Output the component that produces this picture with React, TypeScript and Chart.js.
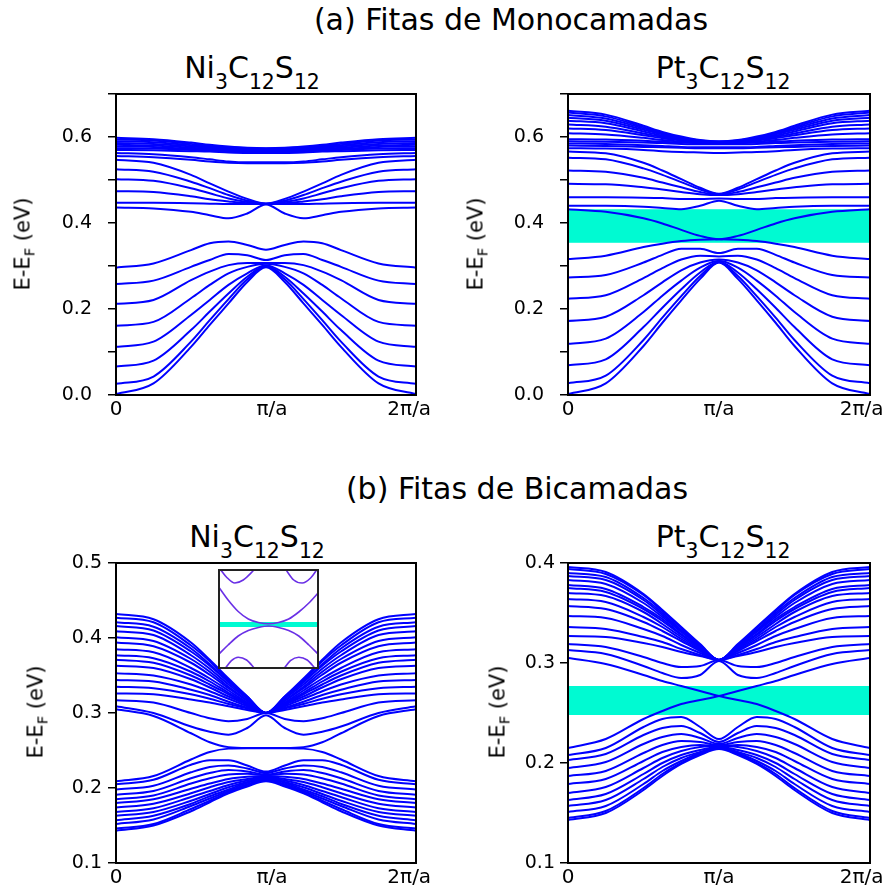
import React, { useEffect, useRef } from 'react';
import { Chart, registerables } from 'chart.js';

Chart.register(...registerables);

// ---------------- data ----------------
const K = [0, 0.25, 0.5, 0.625, 0.75, 0.875, 1, 1.125, 1.25, 1.375, 1.5, 1.75, 2];
const X_TICK_LABELS = ['0', 'π/a', '2π/a'];
const X_TICK_POS_LEFT = [0, 1.04, 1.955];
const X_TICK_POS_RIGHT = [0, 1, 1.945];

const MONO_Y_RANGE = [0, 0.7];
const MONO_Y_LABELS = ['0.0', '0.2', '0.4', '0.6'];
const NI_BI_Y_RANGE = [0.1, 0.5];
const NI_BI_Y_LABELS = ['0.1', '0.2', '0.3', '0.4', '0.5'];
const PT_BI_Y_RANGE = [0.1, 0.4];
const PT_BI_Y_LABELS = ['0.1', '0.2', '0.3', '0.4'];

const PT_MONO_GAP = [0.354, 0.432];
const PT_BI_GAP = [0.248, 0.277];

const SECTION_A = '(a) Fitas de Monocamadas';
const SECTION_B = '(b) Fitas de Bicamadas';
const NI_FORMULA = [['Ni', '3'], ['C', '12'], ['S', '12']];
const PT_FORMULA = [['Pt', '3'], ['C', '12'], ['S', '12']];
const Y_TITLE = ['E-E', 'F', ' (eV)'];

const NI_MONO_BANDS = [
  [0.002, 0.027, 0.112, 0.163, 0.213, 0.263, 0.297, 0.263, 0.213, 0.163, 0.112, 0.027, 0.002],
  [0.026, 0.043, 0.124, 0.174, 0.223, 0.269, 0.298, 0.269, 0.223, 0.174, 0.124, 0.043, 0.026],
  [0.066, 0.080, 0.151, 0.194, 0.236, 0.275, 0.300, 0.275, 0.236, 0.194, 0.151, 0.080, 0.066],
  [0.112, 0.124, 0.186, 0.221, 0.256, 0.283, 0.302, 0.283, 0.256, 0.221, 0.186, 0.124, 0.112],
  [0.161, 0.170, 0.225, 0.256, 0.283, 0.298, 0.305, 0.298, 0.283, 0.256, 0.225, 0.170, 0.161],
  [0.212, 0.221, 0.267, 0.287, 0.302, 0.307, 0.307, 0.307, 0.302, 0.287, 0.267, 0.221, 0.212],
  [0.258, 0.266, 0.298, 0.314, 0.328, 0.325, 0.314, 0.325, 0.328, 0.314, 0.298, 0.266, 0.258],
  [0.296, 0.306, 0.337, 0.353, 0.357, 0.349, 0.338, 0.349, 0.357, 0.353, 0.337, 0.306, 0.296],
  [0.436, 0.434, 0.426, 0.418, 0.411, 0.422, 0.443, 0.422, 0.411, 0.418, 0.426, 0.434, 0.436],
  [0.447, 0.447, 0.446, 0.445, 0.444, 0.444, 0.444, 0.444, 0.444, 0.445, 0.446, 0.447, 0.447],
  [0.474, 0.472, 0.462, 0.455, 0.450, 0.446, 0.445, 0.446, 0.450, 0.455, 0.462, 0.472, 0.474],
  [0.502, 0.498, 0.481, 0.469, 0.457, 0.449, 0.445, 0.449, 0.457, 0.469, 0.481, 0.498, 0.502],
  [0.525, 0.519, 0.496, 0.481, 0.465, 0.452, 0.445, 0.452, 0.465, 0.481, 0.496, 0.519, 0.525],
  [0.547, 0.540, 0.512, 0.492, 0.473, 0.456, 0.445, 0.456, 0.473, 0.492, 0.512, 0.540, 0.547],
  [0.556, 0.553, 0.547, 0.543, 0.540, 0.539, 0.539, 0.539, 0.540, 0.543, 0.547, 0.553, 0.556],
  [0.563, 0.560, 0.553, 0.548, 0.543, 0.541, 0.541, 0.541, 0.543, 0.548, 0.553, 0.560, 0.563],
  [0.570, 0.569, 0.567, 0.566, 0.564, 0.563, 0.563, 0.563, 0.564, 0.566, 0.567, 0.569, 0.570],
  [0.574, 0.573, 0.570, 0.568, 0.566, 0.565, 0.565, 0.565, 0.566, 0.568, 0.570, 0.573, 0.574],
  [0.578, 0.577, 0.572, 0.570, 0.568, 0.567, 0.566, 0.567, 0.568, 0.570, 0.572, 0.577, 0.578],
  [0.582, 0.580, 0.575, 0.572, 0.570, 0.569, 0.568, 0.569, 0.570, 0.572, 0.575, 0.580, 0.582],
  [0.586, 0.584, 0.578, 0.575, 0.572, 0.570, 0.570, 0.570, 0.572, 0.575, 0.578, 0.584, 0.586],
  [0.590, 0.588, 0.581, 0.577, 0.574, 0.572, 0.571, 0.572, 0.574, 0.577, 0.581, 0.588, 0.590],
  [0.594, 0.592, 0.584, 0.579, 0.576, 0.574, 0.573, 0.574, 0.576, 0.579, 0.584, 0.592, 0.594],
  [0.598, 0.595, 0.587, 0.582, 0.578, 0.575, 0.574, 0.575, 0.578, 0.582, 0.587, 0.595, 0.598],
];

const PT_MONO_BANDS = [
  [0.661, 0.652, 0.626, 0.612, 0.601, 0.593, 0.590, 0.593, 0.601, 0.612, 0.626, 0.652, 0.661],
  [0.657, 0.648, 0.623, 0.610, 0.599, 0.592, 0.589, 0.592, 0.599, 0.610, 0.623, 0.648, 0.657],
  [0.651, 0.643, 0.620, 0.608, 0.598, 0.591, 0.589, 0.591, 0.598, 0.608, 0.620, 0.643, 0.651],
  [0.645, 0.638, 0.617, 0.606, 0.597, 0.590, 0.588, 0.590, 0.597, 0.606, 0.617, 0.638, 0.645],
  [0.638, 0.632, 0.613, 0.603, 0.595, 0.590, 0.588, 0.590, 0.595, 0.603, 0.613, 0.632, 0.638],
  [0.629, 0.624, 0.608, 0.600, 0.593, 0.589, 0.588, 0.589, 0.593, 0.600, 0.608, 0.624, 0.629],
  [0.620, 0.616, 0.604, 0.597, 0.592, 0.588, 0.587, 0.588, 0.592, 0.597, 0.604, 0.616, 0.620],
  [0.609, 0.606, 0.598, 0.593, 0.589, 0.587, 0.586, 0.587, 0.589, 0.593, 0.598, 0.606, 0.609],
  [0.595, 0.594, 0.591, 0.589, 0.587, 0.586, 0.585, 0.586, 0.587, 0.589, 0.591, 0.594, 0.595],
  [0.590, 0.589, 0.587, 0.586, 0.584, 0.583, 0.583, 0.583, 0.584, 0.586, 0.587, 0.589, 0.590],
  [0.585, 0.584, 0.581, 0.579, 0.577, 0.576, 0.576, 0.576, 0.577, 0.579, 0.581, 0.584, 0.585],
  [0.580, 0.579, 0.577, 0.576, 0.575, 0.574, 0.574, 0.574, 0.575, 0.576, 0.577, 0.579, 0.580],
  [0.574, 0.573, 0.570, 0.567, 0.565, 0.564, 0.563, 0.564, 0.565, 0.567, 0.570, 0.573, 0.574],
  [0.566, 0.562, 0.540, 0.522, 0.502, 0.482, 0.468, 0.482, 0.502, 0.522, 0.540, 0.562, 0.566],
  [0.552, 0.548, 0.527, 0.512, 0.495, 0.478, 0.467, 0.478, 0.495, 0.512, 0.527, 0.548, 0.552],
  [0.522, 0.519, 0.505, 0.494, 0.483, 0.472, 0.466, 0.472, 0.483, 0.494, 0.505, 0.519, 0.522],
  [0.491, 0.490, 0.483, 0.478, 0.472, 0.467, 0.465, 0.467, 0.472, 0.478, 0.483, 0.490, 0.491],
  [0.460, 0.460, 0.459, 0.458, 0.456, 0.456, 0.457, 0.456, 0.456, 0.458, 0.459, 0.460, 0.460],
  [0.440, 0.440, 0.438, 0.435, 0.432, 0.440, 0.452, 0.440, 0.432, 0.435, 0.438, 0.440, 0.440],
  [0.432, 0.426, 0.411, 0.399, 0.384, 0.370, 0.362, 0.370, 0.384, 0.399, 0.411, 0.426, 0.432],
  [0.316, 0.324, 0.344, 0.352, 0.358, 0.361, 0.362, 0.361, 0.358, 0.352, 0.344, 0.324, 0.316],
  [0.273, 0.279, 0.308, 0.326, 0.340, 0.340, 0.330, 0.340, 0.340, 0.326, 0.308, 0.279, 0.273],
  [0.224, 0.232, 0.272, 0.295, 0.315, 0.324, 0.322, 0.324, 0.315, 0.295, 0.272, 0.232, 0.224],
  [0.172, 0.182, 0.232, 0.262, 0.290, 0.308, 0.315, 0.308, 0.290, 0.262, 0.232, 0.182, 0.172],
  [0.119, 0.131, 0.193, 0.231, 0.266, 0.296, 0.312, 0.296, 0.266, 0.231, 0.193, 0.131, 0.119],
  [0.069, 0.083, 0.158, 0.203, 0.246, 0.285, 0.310, 0.285, 0.246, 0.203, 0.158, 0.083, 0.069],
  [0.027, 0.045, 0.128, 0.180, 0.230, 0.277, 0.309, 0.277, 0.230, 0.180, 0.128, 0.045, 0.027],
  [0.002, 0.027, 0.114, 0.168, 0.220, 0.270, 0.308, 0.270, 0.220, 0.168, 0.114, 0.027, 0.002],
];

const NI_BI_BANDS = [
  [0.432, 0.425, 0.394, 0.371, 0.346, 0.322, 0.300, 0.322, 0.346, 0.371, 0.394, 0.425, 0.432],
  [0.427, 0.421, 0.390, 0.369, 0.344, 0.322, 0.300, 0.322, 0.344, 0.369, 0.390, 0.421, 0.427],
  [0.421, 0.415, 0.386, 0.365, 0.342, 0.321, 0.300, 0.321, 0.342, 0.365, 0.386, 0.415, 0.421],
  [0.416, 0.410, 0.382, 0.363, 0.341, 0.320, 0.300, 0.320, 0.341, 0.363, 0.382, 0.410, 0.416],
  [0.409, 0.404, 0.377, 0.359, 0.338, 0.319, 0.300, 0.319, 0.338, 0.359, 0.377, 0.404, 0.409],
  [0.401, 0.396, 0.372, 0.355, 0.335, 0.317, 0.300, 0.317, 0.335, 0.355, 0.372, 0.396, 0.401],
  [0.394, 0.389, 0.367, 0.351, 0.333, 0.316, 0.300, 0.316, 0.333, 0.351, 0.367, 0.389, 0.394],
  [0.385, 0.381, 0.360, 0.346, 0.330, 0.314, 0.300, 0.314, 0.330, 0.346, 0.360, 0.381, 0.385],
  [0.377, 0.373, 0.355, 0.342, 0.327, 0.313, 0.300, 0.313, 0.327, 0.342, 0.355, 0.373, 0.377],
  [0.371, 0.367, 0.350, 0.338, 0.325, 0.312, 0.300, 0.312, 0.325, 0.338, 0.350, 0.367, 0.371],
  [0.363, 0.360, 0.345, 0.334, 0.322, 0.311, 0.300, 0.311, 0.322, 0.334, 0.345, 0.360, 0.363],
  [0.353, 0.350, 0.338, 0.329, 0.319, 0.309, 0.300, 0.309, 0.319, 0.329, 0.338, 0.350, 0.353],
  [0.344, 0.342, 0.331, 0.324, 0.315, 0.307, 0.300, 0.307, 0.315, 0.324, 0.331, 0.342, 0.344],
  [0.335, 0.333, 0.325, 0.319, 0.312, 0.306, 0.300, 0.306, 0.312, 0.319, 0.325, 0.333, 0.335],
  [0.326, 0.325, 0.318, 0.314, 0.309, 0.304, 0.300, 0.304, 0.309, 0.314, 0.318, 0.325, 0.326],
  [0.317, 0.314, 0.300, 0.293, 0.289, 0.292, 0.300, 0.292, 0.289, 0.293, 0.300, 0.314, 0.317],
  [0.309, 0.300, 0.282, 0.275, 0.271, 0.280, 0.297, 0.280, 0.271, 0.275, 0.282, 0.300, 0.309],
  [0.305, 0.296, 0.273, 0.261, 0.2545, 0.2535, 0.2535, 0.2535, 0.2545, 0.261, 0.273, 0.296, 0.305],
  [0.209, 0.216, 0.238, 0.248, 0.2525, 0.253, 0.253, 0.253, 0.2525, 0.248, 0.238, 0.216, 0.209],
  [0.205, 0.211, 0.231, 0.237, 0.237, 0.230, 0.222, 0.230, 0.237, 0.237, 0.231, 0.211, 0.205],
  [0.198, 0.203, 0.221, 0.228, 0.230, 0.226, 0.220, 0.226, 0.230, 0.228, 0.221, 0.203, 0.198],
  [0.191, 0.196, 0.213, 0.220, 0.224, 0.222, 0.218, 0.222, 0.224, 0.220, 0.213, 0.196, 0.191],
  [0.185, 0.190, 0.206, 0.213, 0.218, 0.219, 0.217, 0.219, 0.218, 0.213, 0.206, 0.190, 0.185],
  [0.180, 0.185, 0.199, 0.206, 0.212, 0.215, 0.216, 0.215, 0.212, 0.206, 0.199, 0.185, 0.180],
  [0.174, 0.179, 0.193, 0.201, 0.208, 0.212, 0.215, 0.212, 0.208, 0.201, 0.193, 0.179, 0.174],
  [0.168, 0.173, 0.188, 0.196, 0.204, 0.210, 0.214, 0.210, 0.204, 0.196, 0.188, 0.173, 0.168],
  [0.163, 0.168, 0.183, 0.192, 0.201, 0.208, 0.213, 0.208, 0.201, 0.192, 0.183, 0.168, 0.163],
  [0.157, 0.163, 0.179, 0.189, 0.198, 0.207, 0.212, 0.207, 0.198, 0.189, 0.179, 0.163, 0.157],
  [0.152, 0.158, 0.176, 0.186, 0.196, 0.205, 0.211, 0.205, 0.196, 0.186, 0.176, 0.158, 0.152],
  [0.146, 0.152, 0.172, 0.183, 0.194, 0.204, 0.210, 0.204, 0.194, 0.183, 0.172, 0.152, 0.146],
  [0.143, 0.150, 0.169, 0.181, 0.193, 0.202, 0.209, 0.202, 0.193, 0.181, 0.169, 0.150, 0.143],
];

const PT_BI_BANDS = [
  [0.396, 0.391, 0.369, 0.353, 0.336, 0.319, 0.303, 0.319, 0.336, 0.353, 0.369, 0.391, 0.396],
  [0.394, 0.389, 0.368, 0.352, 0.335, 0.318, 0.303, 0.318, 0.335, 0.352, 0.368, 0.389, 0.394],
  [0.390, 0.386, 0.365, 0.350, 0.333, 0.318, 0.303, 0.318, 0.333, 0.350, 0.365, 0.386, 0.390],
  [0.387, 0.383, 0.363, 0.348, 0.332, 0.317, 0.303, 0.317, 0.332, 0.348, 0.363, 0.383, 0.387],
  [0.383, 0.379, 0.360, 0.346, 0.331, 0.317, 0.303, 0.317, 0.331, 0.346, 0.360, 0.379, 0.383],
  [0.378, 0.374, 0.356, 0.344, 0.329, 0.316, 0.303, 0.316, 0.329, 0.344, 0.356, 0.374, 0.378],
  [0.375, 0.371, 0.354, 0.342, 0.328, 0.315, 0.303, 0.315, 0.328, 0.342, 0.354, 0.371, 0.375],
  [0.370, 0.367, 0.351, 0.339, 0.326, 0.314, 0.303, 0.314, 0.326, 0.339, 0.351, 0.367, 0.370],
  [0.364, 0.361, 0.346, 0.336, 0.324, 0.313, 0.303, 0.313, 0.324, 0.336, 0.346, 0.361, 0.364],
  [0.357, 0.354, 0.341, 0.332, 0.322, 0.312, 0.303, 0.312, 0.322, 0.332, 0.341, 0.354, 0.357],
  [0.347, 0.345, 0.334, 0.327, 0.318, 0.310, 0.303, 0.310, 0.318, 0.327, 0.334, 0.345, 0.347],
  [0.336, 0.334, 0.326, 0.321, 0.314, 0.308, 0.303, 0.308, 0.314, 0.321, 0.326, 0.334, 0.336],
  [0.327, 0.326, 0.320, 0.316, 0.311, 0.307, 0.303, 0.307, 0.311, 0.316, 0.320, 0.326, 0.327],
  [0.319, 0.316, 0.306, 0.300, 0.296, 0.297, 0.303, 0.297, 0.296, 0.300, 0.306, 0.316, 0.319],
  [0.313, 0.309, 0.297, 0.290, 0.285, 0.288, 0.302, 0.288, 0.285, 0.290, 0.297, 0.309, 0.313],
  [0.305, 0.299, 0.288, 0.282, 0.277, 0.272, 0.267, 0.263, 0.259, 0.252, 0.244, 0.224, 0.215],
  [0.215, 0.224, 0.244, 0.252, 0.259, 0.263, 0.267, 0.272, 0.277, 0.282, 0.288, 0.299, 0.305],
  [0.208, 0.215, 0.236, 0.244, 0.246, 0.236, 0.224, 0.236, 0.246, 0.244, 0.236, 0.215, 0.208],
  [0.203, 0.209, 0.228, 0.235, 0.237, 0.230, 0.221, 0.230, 0.237, 0.235, 0.228, 0.209, 0.203],
  [0.195, 0.201, 0.219, 0.226, 0.229, 0.225, 0.219, 0.225, 0.229, 0.226, 0.219, 0.201, 0.195],
  [0.187, 0.192, 0.210, 0.218, 0.222, 0.221, 0.218, 0.221, 0.222, 0.218, 0.210, 0.192, 0.187],
  [0.179, 0.184, 0.202, 0.211, 0.216, 0.218, 0.217, 0.218, 0.216, 0.211, 0.202, 0.184, 0.179],
  [0.170, 0.176, 0.195, 0.205, 0.212, 0.216, 0.217, 0.216, 0.212, 0.205, 0.195, 0.176, 0.170],
  [0.163, 0.169, 0.189, 0.200, 0.208, 0.213, 0.216, 0.213, 0.208, 0.200, 0.189, 0.169, 0.163],
  [0.157, 0.163, 0.184, 0.196, 0.205, 0.211, 0.216, 0.211, 0.205, 0.196, 0.184, 0.163, 0.157],
  [0.151, 0.157, 0.179, 0.192, 0.202, 0.210, 0.215, 0.210, 0.202, 0.192, 0.179, 0.157, 0.151],
  [0.145, 0.152, 0.175, 0.189, 0.200, 0.209, 0.215, 0.209, 0.200, 0.189, 0.175, 0.152, 0.145],
  [0.143, 0.150, 0.173, 0.187, 0.199, 0.208, 0.214, 0.208, 0.199, 0.187, 0.173, 0.150, 0.143],
];

// inset (zoom of the Ni bilayer crossing), normalised coordinates
const INSET_K = [0, 0.1, 0.2, 0.3, 0.4, 0.5, 0.6, 0.7, 0.8, 0.9, 1];
const INSET_UPPER = [0.83, 0.69, 0.575, 0.5, 0.465, 0.452, 0.465, 0.5, 0.57, 0.66, 0.77];
const INSET_LOWER = [0.14, 0.24, 0.33, 0.385, 0.415, 0.43, 0.415, 0.385, 0.33, 0.24, 0.14];
const INSET_GAP = [0.42, 0.47];
const INSET_TOP_L_X = [0.02, 0.083, 0.167, 0.25, 0.367];
const INSET_TOP_L_Y = [1.0, 0.92, 0.86, 0.89, 1.0];
const INSET_TOP_R_X = [0.667, 0.75, 0.833, 0.917, 0.983];
const INSET_TOP_R_Y = [1.0, 0.89, 0.86, 0.91, 1.0];
const INSET_BOT_L_X = [0.067, 0.133, 0.2, 0.283, 0.367];
const INSET_BOT_L_Y = [0, 0.084, 0.118, 0.09, 0];
const INSET_BOT_R_X = [0.65, 0.717, 0.8, 0.883, 0.967];
const INSET_BOT_R_Y = [0, 0.084, 0.118, 0.09, 0];

// ---------------- styles ----------------
const BLUE = '#0000ff';
const CYAN = '#00fad2';
const INSET_LINE = '#6a30e6';
const SANS = "'DejaVu Sans', sans-serif";
const PAD_TOP = 40;
const X_AXIS_H = 40;

const framePlugin = {
  id: 'frameBox',
  afterDraw(chart: any) {
    const { ctx, chartArea: a } = chart;
    ctx.save();
    ctx.strokeStyle = '#000';
    ctx.lineWidth = 2;
    ctx.strokeRect(a.left, a.top, a.right - a.left, a.bottom - a.top);
    ctx.restore();
  },
};

function makeGapPlugin(gap?: number[]) {
  return {
    id: 'gapBand',
    beforeDatasetsDraw(chart: any) {
      if (!gap) return;
      const { ctx, chartArea: a, scales } = chart;
      const yHi = scales.y.getPixelForValue(gap[1]);
      const yLo = scales.y.getPixelForValue(gap[0]);
      ctx.save();
      ctx.fillStyle = CYAN;
      ctx.fillRect(a.left, yHi, a.right - a.left, yLo - yHi);
      ctx.restore();
    },
  };
}

type PanelProps = {
  plotLeft: number; plotTop: number; plotRight: number; plotBottom: number; canvasLeft: number; canvasRight: number;
  bands: number[][]; yRange: number[]; yLabels: string[]; xTickPos: number[];
  yLabelPad: number; gap?: number[];
};

function Panel(p: PanelProps) {
  const ref = useRef<HTMLCanvasElement>(null);
  const top = p.plotTop - PAD_TOP;
  const width = p.canvasRight - p.canvasLeft;
  const height = p.plotBottom + X_AXIS_H - top;
  useEffect(() => {
    const chart = new Chart(ref.current as HTMLCanvasElement, {
      type: 'line',
      data: {
        datasets: p.bands.map((b) => ({
          data: K.map((k, i) => ({ x: k, y: b[i] })),
          borderColor: BLUE,
          borderWidth: 2,
          pointRadius: 0,
          fill: false,
          cubicInterpolationMode: 'monotone',
        })),
      },
      options: {
        animation: false,
        responsive: false,
        events: [],
        layout: { padding: { top: PAD_TOP, right: p.canvasRight - p.plotRight, left: 0, bottom: 0 } },
        plugins: { legend: { display: false }, tooltip: { enabled: false } },
        scales: {
          x: {
            type: 'linear',
            min: 0,
            max: 2,
            afterBuildTicks: (ax: any) => { ax.ticks = p.xTickPos.map((v) => ({ value: v })); },
            afterFit: (s: any) => { s.height = X_AXIS_H; },
            ticks: {
              callback: (_v: any, i: number) => X_TICK_LABELS[i],
              color: '#000',
              font: { family: SANS, size: 20 },
              padding: 3,
              maxRotation: 0,
              autoSkip: false,
            },
            grid: { display: false, drawTicks: false },
            border: { display: false },
          },
          y: {
            type: 'linear',
            min: p.yRange[0],
            max: p.yRange[1],
            afterFit: (s: any) => { s.width = p.plotLeft - p.canvasLeft; },
            ticks: {
              stepSize: 0.1,
              autoSkip: false,
              callback: (v: any) => {
                const s = Number(v).toFixed(1);
                return p.yLabels.includes(s) ? s : '';
              },
              color: '#000',
              font: { family: SANS, size: 19 },
              padding: p.yLabelPad,
            },
            grid: { drawOnChartArea: false, drawTicks: true, tickLength: 8, color: '#000', lineWidth: 1.5 },
            border: { display: false },
          },
        },
      } as any,
      plugins: [makeGapPlugin(p.gap), framePlugin],
    });
    return () => chart.destroy();
  }, []);
  return (
    <canvas
      ref={ref}
      width={width}
      height={height}
      style={{ position: 'absolute', left: p.canvasLeft, top, width, height }}
    />
  );
}

function Inset() {
  const ref = useRef<HTMLCanvasElement>(null);
  useEffect(() => {
    const mk = (xs: number[], ys: number[]) => ({
      data: xs.map((x, i) => ({ x, y: ys[i] })),
      borderColor: INSET_LINE,
      borderWidth: 1.6,
      pointRadius: 0,
      fill: false,
      cubicInterpolationMode: 'monotone',
    });
    const chart = new Chart(ref.current as HTMLCanvasElement, {
      type: 'line',
      data: {
        datasets: [
          mk(INSET_K, INSET_UPPER),
          mk(INSET_K, INSET_LOWER),
          mk(INSET_TOP_L_X, INSET_TOP_L_Y),
          mk(INSET_TOP_R_X, INSET_TOP_R_Y),
          mk(INSET_BOT_L_X, INSET_BOT_L_Y),
          mk(INSET_BOT_R_X, INSET_BOT_R_Y),
        ],
      },
      options: {
        animation: false,
        responsive: false,
        events: [],
        layout: { padding: 0 },
        plugins: { legend: { display: false }, tooltip: { enabled: false } },
        scales: {
          x: { type: 'linear', min: 0, max: 1, display: false },
          y: { type: 'linear', min: 0, max: 1, display: false },
        },
      } as any,
      plugins: [
        makeGapPlugin(INSET_GAP),
        {
          id: 'insetFrame',
          afterDraw(c: any) {
            const { ctx, width, height } = c;
            ctx.save();
            ctx.strokeStyle = '#222';
            ctx.lineWidth = 2;
            ctx.strokeRect(1, 1, width - 2, height - 2);
            ctx.restore();
          },
        },
      ],
    });
    return () => chart.destroy();
  }, []);
  return (
    <canvas
      ref={ref}
      width={101}
      height={100}
      style={{ position: 'absolute', left: 218, top: 569, width: 101, height: 100, background: '#fff' }}
    />
  );
}

function Formula({ parts, cx, top }: { parts: string[][]; cx: number; top: number }) {
  return (
    <div
      style={{
        position: 'absolute', left: cx, top, transform: 'translateX(-50%)',
        fontFamily: SANS, fontSize: 30, lineHeight: 1, whiteSpace: 'nowrap', color: '#000',
      }}
    >
      {parts.map(([el, n], i) => (
        <span key={i}>
          {el}
          <span style={{ fontSize: '0.68em', position: 'relative', top: '0.56em' }}>{n}</span>
        </span>
      ))}
    </div>
  );
}

function YTitle({ cx, cy }: { cx: number; cy: number }) {
  return (
    <div
      style={{
        position: 'absolute', left: cx, top: cy, transform: 'translate(-50%, -50%) rotate(-90deg)',
        fontFamily: SANS, fontSize: 21, lineHeight: 1, whiteSpace: 'nowrap', color: '#000',
      }}
    >
      {Y_TITLE[0]}
      <span style={{ fontSize: '0.7em', position: 'relative', top: '0.35em' }}>{Y_TITLE[1]}</span>
      {Y_TITLE[2]}
    </div>
  );
}

function Section({ text, cx, top }: { text: string; cx: number; top: number }) {
  return (
    <div
      style={{
        position: 'absolute', left: cx, top, transform: 'translateX(-50%)',
        fontFamily: SANS, fontSize: 30, lineHeight: 1, whiteSpace: 'nowrap', color: '#000',
      }}
    >
      {text}
    </div>
  );
}

export default function App() {
  return (
    <div style={{ position: 'absolute', left: 0, top: 0, width: 888, height: 893, background: '#fff', overflow: 'hidden' }}>
      <Section text={SECTION_A} cx={511} top={5} />
      <Section text={SECTION_B} cx={517} top={474} />
      <Formula parts={NI_FORMULA} cx={252} top={53} />
      <Formula parts={PT_FORMULA} cx={723} top={53} />
      <Formula parts={NI_FORMULA} cx={257} top={522} />
      <Formula parts={PT_FORMULA} cx={723} top={522} />

      <Panel canvasLeft={0} canvasRight={444} plotLeft={116} plotRight={416} plotTop={94} plotBottom={395}
        bands={NI_MONO_BANDS} yRange={MONO_Y_RANGE} yLabels={MONO_Y_LABELS} xTickPos={X_TICK_POS_LEFT} yLabelPad={16} />
      <Panel canvasLeft={444} canvasRight={888} plotLeft={568} plotRight={870} plotTop={94} plotBottom={395}
        bands={PT_MONO_BANDS} yRange={MONO_Y_RANGE} yLabels={MONO_Y_LABELS} xTickPos={X_TICK_POS_RIGHT} yLabelPad={16} gap={PT_MONO_GAP} />
      <Panel canvasLeft={0} canvasRight={444} plotLeft={116} plotRight={416} plotTop={563} plotBottom={863}
        bands={NI_BI_BANDS} yRange={NI_BI_Y_RANGE} yLabels={NI_BI_Y_LABELS} xTickPos={X_TICK_POS_LEFT} yLabelPad={6} />
      <Panel canvasLeft={444} canvasRight={888} plotLeft={568} plotRight={870} plotTop={563} plotBottom={863}
        bands={PT_BI_BANDS} yRange={PT_BI_Y_RANGE} yLabels={PT_BI_Y_LABELS} xTickPos={X_TICK_POS_RIGHT} yLabelPad={5} gap={PT_BI_GAP} />
      <Inset />

      <YTitle cx={23} cy={244} />
      <YTitle cx={476} cy={244} />
      <YTitle cx={36} cy={712} />
      <YTitle cx={498} cy={712} />
    </div>
  );
}
